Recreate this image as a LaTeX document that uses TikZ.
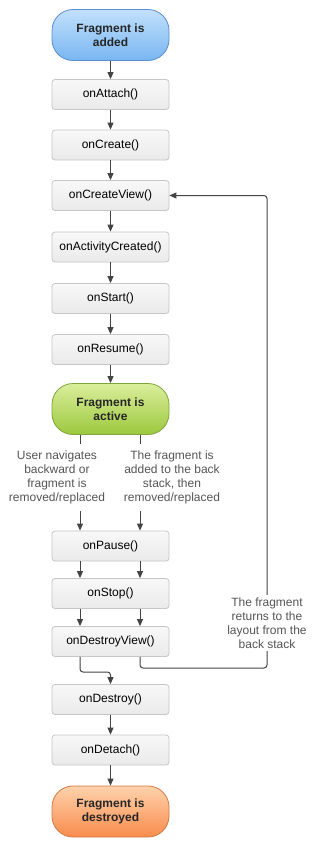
\documentclass[tikz,border=0pt]{standalone}
\usepackage{fontspec}
\setmainfont{Liberation Sans}
\usetikzlibrary{arrows.meta,calc}
\definecolor{arrcol}{HTML}{444444}
\definecolor{boxborder}{HTML}{C6C6C6}
\definecolor{boxtop}{HTML}{F8F8F8}
\definecolor{boxbot}{HTML}{EAEAEA}
\definecolor{bluetop}{HTML}{C2E0FC}
\definecolor{bluebot}{HTML}{78B6F0}
\definecolor{blueborder}{HTML}{5B8ED0}
\definecolor{greentop}{HTML}{DAEE9C}
\definecolor{greenbot}{HTML}{9CC83E}
\definecolor{greenborder}{HTML}{7FA63A}
\definecolor{orangetop}{HTML}{FFD2AC}
\definecolor{orangebot}{HTML}{F88C4C}
\definecolor{orangeborder}{HTML}{D47A44}
\definecolor{labelcol}{HTML}{555555}
\begin{document}
\begin{tikzpicture}[x=1pt,y=-1pt,
  font=\fontsize{12pt}{14pt}\selectfont,
  cbbox/.style={draw=boxborder, line width=0.8pt, rounded corners=3pt, top color=boxtop, bottom color=boxbot,
    minimum width=117pt, minimum height=30pt, inner sep=0pt, text=black},
  capsule/.style={line width=0.8pt, rounded corners=21pt, minimum width=117pt, minimum height=51pt,
    inner sep=0pt, align=center, font=\fontsize{12pt}{14pt}\selectfont\bfseries, text=black!85},
  bluecap/.style={capsule, draw=blueborder, top color=bluetop, bottom color=bluebot},
  greencap/.style={capsule, draw=greenborder, top color=greentop, bottom color=greenbot},
  orangecap/.style={capsule, draw=orangeborder, top color=orangetop, bottom color=orangebot},
  arr/.style={draw=arrcol, line width=1pt, -{Triangle[length=7pt,width=6pt]}},
  ln/.style={draw=arrcol, line width=1pt},
  lbl/.style={align=center, text=labelcol, inner sep=7pt}
]
\useasboundingbox (0,0) rectangle (317,847);
\fill[white] (0,0) rectangle (317,847);

\node[bluecap] (added) at (110.5,35) {Fragment is\\added};
\node[cbbox] (attach) at (110.5,94.5) {onAttach()};
\node[cbbox] (create) at (110.5,145) {onCreate()};
\node[cbbox] (cview) at (110.5,195.5) {onCreateView()};
\node[cbbox] (actc) at (110.5,247) {onActivityCreated()};
\node[cbbox] (start) at (110.5,298.5) {onStart()};
\node[cbbox] (resume) at (110.5,349.5) {onResume()};
\node[greencap] (active) at (110.5,409) {Fragment is\\active};
\node[lbl] (lblL) at (57,477.5) {User navigates\\backward or\\fragment is\\removed/replaced};
\node[lbl] (lblR) at (172,477.5) {The fragment is\\added to the back\\stack, then\\removed/replaced};
\node[cbbox] (pause) at (110.5,546) {onPause()};
\node[cbbox] (stop) at (110.5,593.5) {onStop()};
\node[cbbox] (dview) at (110.5,641.5) {onDestroyView()};
\node[cbbox] (destroy) at (110.5,699.5) {onDestroy()};
\node[cbbox] (detach) at (110.5,750) {onDetach()};
\node[orangecap] (destroyed) at (110.5,811.5) {Fragment is\\destroyed};

\coordinate (xl) at (80,0);
\coordinate (xr) at (140,0);
\coordinate (jn) at (110.5,672);
\coordinate (lp) at (267,668);

\draw[arr] (added) -- (attach);
\draw[arr] (attach) -- (create);
\draw[arr] (create) -- (cview);
\draw[arr] (cview) -- (actc);
\draw[arr] (actc) -- (start);
\draw[arr] (start) -- (resume);
\draw[arr] (resume) -- (active);

\draw[ln] (active.south -| xl) -- (lblL.north -| xl);
\draw[ln] (active.south -| xr) -- (lblR.north -| xr);
\draw[arr] (lblL.south -| xl) -- (pause.north -| xl);
\draw[arr] (lblR.south -| xr) -- (pause.north -| xr);
\draw[arr] (pause.south -| xl) -- (stop.north -| xl);
\draw[arr] (pause.south -| xr) -- (stop.north -| xr);
\draw[arr] (stop.south -| xl) -- (dview.north -| xl);
\draw[arr] (stop.south -| xr) -- (dview.north -| xr);

\draw[arr, rounded corners=3pt] (dview.south -| xl) |- (jn) -- (destroy.north);
\draw[arr, rounded corners=3pt] (dview.south -| xr) |- (lp) |- (cview.east);
\node[lbl, fill=white, inner sep=3pt] (ret) at (267,623) {The fragment\\returns to the\\layout from the\\back stack};

\draw[arr] (destroy) -- (detach);
\draw[arr] (detach) -- (destroyed);
\end{tikzpicture}
\end{document}
